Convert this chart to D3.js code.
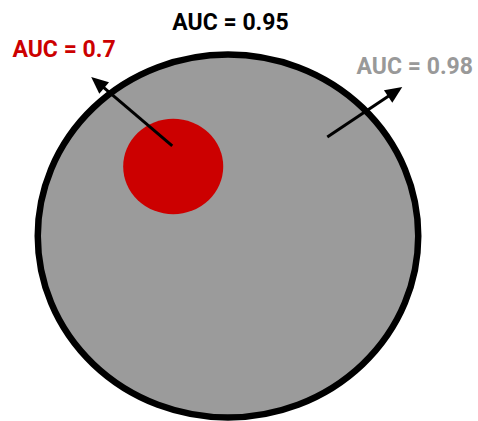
<!DOCTYPE html>
<html><head><meta charset="utf-8">
<script src="https://cdn.jsdelivr.net/npm/d3@7"></script>
<style>body{margin:0;background:#fff}svg{display:block}</style>
</head><body>
<script>
// Data (unit-circle data space)
const circleNames = ["outer", "inner"];
const circleCx = [0, -0.288];
const circleCy = [0, 0.383];
const circleR = [1, 0.263];
const circleFill = ["#9b9b9b", "#cc0000"];

const arrowFromX = [-0.293, 0.522];
const arrowFromY = [0.496, 0.545];
const arrowToX = [-0.719, 0.916];
const arrowToY = [0.876, 0.821];

const labelText = ["AUC = 0.95", "AUC = 0.7", "AUC = 0.98"];
const labelX = [0.013, -1.133, 0.676];
const labelY = [1.136, 0.987, 0.893];
const labelColor = ["#000000", "#cc0000", "#999999"];
const labelAnchor = ["middle", "start", "start"];

const W = 478, H = 421;
const svg = d3.select("body").append("svg").attr("width", W).attr("height", H);
const x = d3.scaleLinear().domain([-1, 1]).range([37.75, 418.25]);
const y = d3.scaleLinear().domain([-1, 1]).range([417.5, 54.5]);
const kx = x(1) - x(0), ky = y(0) - y(1);

svg.selectAll("ellipse").data(circleNames).enter().append("ellipse")
  .attr("cx", (d, i) => x(circleCx[i]))
  .attr("cy", (d, i) => y(circleCy[i]))
  .attr("rx", (d, i) => circleR[i] * kx)
  .attr("ry", (d, i) => circleR[i] * ky)
  .attr("fill", (d, i) => circleFill[i])
  .attr("stroke", (d, i) => i === 0 ? "#000" : "none")
  .attr("stroke-width", 6.5);

// arrows
arrowFromX.forEach((fx, i) => {
  const x1 = x(fx), y1 = y(arrowFromY[i]), x2 = x(arrowToX[i]), y2 = y(arrowToY[i]);
  const ang = Math.atan2(y2 - y1, x2 - x1);
  const hl = 17, hw = 7.5;
  const bx = x2 - hl * Math.cos(ang), by = y2 - hl * Math.sin(ang);
  svg.append("line").attr("x1", x1).attr("y1", y1).attr("x2", bx + 2 * Math.cos(ang)).attr("y2", by + 2 * Math.sin(ang))
    .attr("stroke", "#000").attr("stroke-width", 3);
  const px = -Math.sin(ang), py = Math.cos(ang);
  svg.append("path")
    .attr("d", `M${x2},${y2}L${bx + hw * px},${by + hw * py}L${bx - hw * px},${by - hw * py}Z`)
    .attr("fill", "#000");
});

svg.selectAll("text").data(labelText).enter().append("text")
  .attr("x", (d, i) => x(labelX[i]))
  .attr("y", (d, i) => y(labelY[i]))
  .attr("text-anchor", (d, i) => labelAnchor[i])
  .attr("fill", (d, i) => labelColor[i])
  .attr("font-family", "Roboto, sans-serif")
  .attr("font-weight", "bold")
  .attr("font-size", 23)
  .text(d => d);
</script>
</body></html>
